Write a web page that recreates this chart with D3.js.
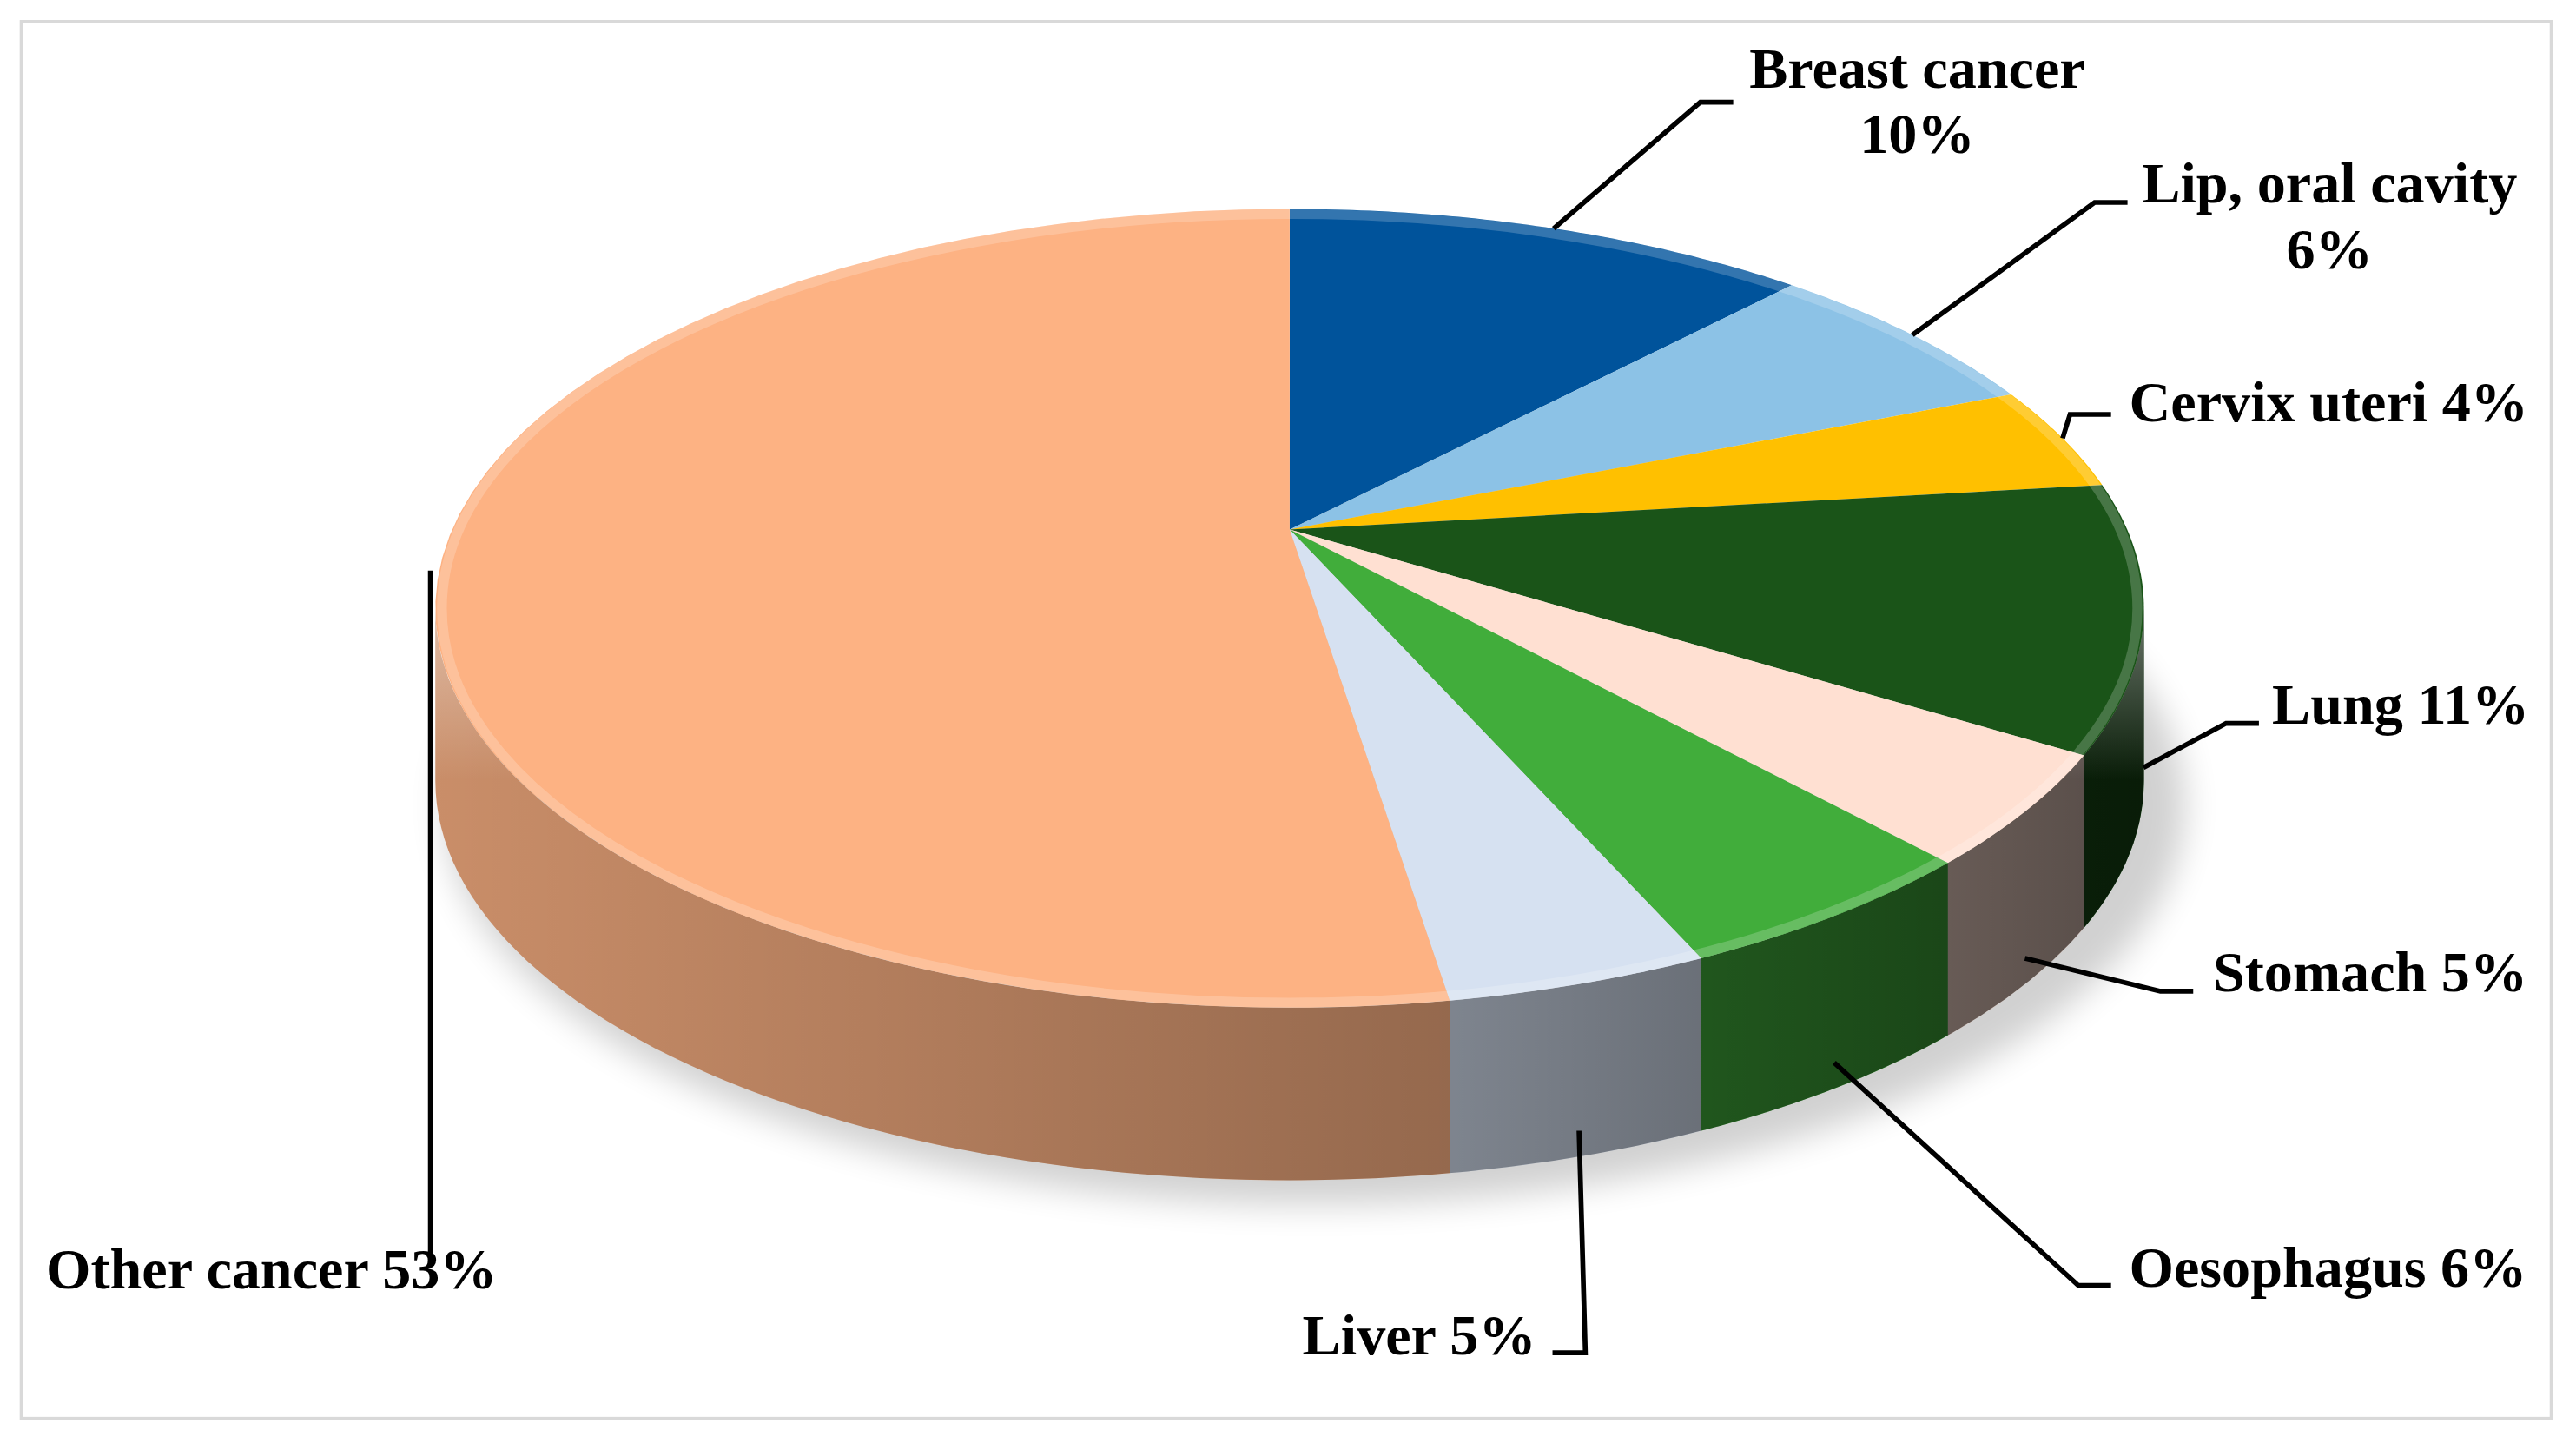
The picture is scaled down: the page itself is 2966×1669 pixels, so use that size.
<!DOCTYPE html>
<html><head><meta charset="utf-8">
<script src="https://cdn.jsdelivr.net/npm/d3@7"></script>
<style>body{margin:0;background:#fff}</style>
</head><body>
<svg id="chart" width="2966" height="1669" viewBox="0 0 1568 882"></svg>
<script>
var categories = ['Breast cancer', 'Lip, oral cavity', 'Cervix uteri', 'Lung', 'Stomach', 'Oesophagus', 'Liver', 'Other cancer'];
var values = [10, 6, 4, 11, 5, 6, 5, 53];
var colours = ['#00539b', '#8cc2e6', '#ffc000', '#1a5418', '#ffe0d2', '#41ad3b', '#d6e1f1', '#fdb283'];

// label layout: text anchor point, anchor, and leader elbow points
var labels = [
  {lines: ['Breast cancer', '10%'], x: 1167, y: 53, anchor: 'middle', elbow: [[1035, 62], [1055, 62]]},
  {lines: ['Lip, oral cavity', '6%'], x: 1418, y: 123, anchor: 'middle', elbow: [[1275, 123], [1295, 123]]},
  {lines: ['Cervix uteri 4%'], x: 1296, y: 256, anchor: 'start', elbow: [[1260, 252], [1285, 252]]},
  {lines: ['Lung 11%'], x: 1383, y: 440, anchor: 'start', elbow: [[1355, 440], [1375, 440]]},
  {lines: ['Stomach 5%'], x: 1347, y: 603, anchor: 'start', elbow: [[1315, 603], [1335, 603]]},
  {lines: ['Oesophagus 6%'], x: 1296, y: 783, anchor: 'start', elbow: [[1265, 782], [1285, 782]]},
  {lines: ['Liver 5%'], x: 935, y: 824, anchor: 'end', elbow: [[965, 823], [945, 823]]},
  {lines: ['Other cancer 53%'], x: 28, y: 784, anchor: 'start', elbow: [[262, 763]]}
];

var svg = d3.select('#chart');
var cx = 785, cy = 370, rx = 520, ry = 243, depth = 105, apexY = 322;

svg.append('rect').attr('x', 13).attr('y', 13).attr('width', 1540).attr('height', 850)
  .attr('fill', '#fff').attr('stroke', '#d9d9d9').attr('stroke-width', 2);

var defs = svg.append('defs');
defs.append('filter').attr('id', 'blur').append('feGaussianBlur').attr('stdDeviation', 10);
var g = defs.append('linearGradient').attr('id', 'shade').attr('x1', 0).attr('x2', 1).attr('y1', 0).attr('y2', 0);
g.append('stop').attr('offset', '0%').attr('stop-color', '#000').attr('stop-opacity', 0.05);
g.append('stop').attr('offset', '60%').attr('stop-color', '#000').attr('stop-opacity', 0.3);
g.append('stop').attr('offset', '100%').attr('stop-color', '#000').attr('stop-opacity', 0.6);
var hl = defs.append('linearGradient').attr('id', 'rim').attr('x1', 0).attr('x2', 0).attr('y1', 0).attr('y2', 1);
hl.append('stop').attr('offset', '0%').attr('stop-color', '#fff').attr('stop-opacity', 0.4);
hl.append('stop').attr('offset', '30%').attr('stop-color', '#fff').attr('stop-opacity', 0);

// shadow
svg.append('ellipse').attr('cx', cx + 15).attr('cy', cy + depth + 15).attr('rx', rx + 10).attr('ry', ry)
  .attr('fill', '#000').attr('opacity', 0.18).attr('filter', 'url(#blur)');

var pie = d3.pie().sort(null).value(function(d) { return d; });
var arcs = pie(values);
var px = function(a) { return cx + rx * Math.sin(a); };
var py = function(a) { return cy - ry * Math.cos(a); };

function arcPath(a0, a1, dy) {
  var n = 60, pts = [];
  for (var i = 0; i <= n; i++) {
    var a = a0 + (a1 - a0) * i / n;
    pts.push([px(a), py(a) + dy]);
  }
  return pts;
}
function toPath(pts) { return 'M' + pts.map(function(p) { return p.join(','); }).join('L') + 'Z'; }
function sidePath(a0, a1) {
  return toPath(arcPath(a0, a1, 0).concat(arcPath(a0, a1, depth).reverse()));
}

// side walls (visible between PI/2 and 3PI/2)
var lo = Math.PI / 2, hi = 3 * Math.PI / 2;
arcs.forEach(function(d, i) {
  var a0 = Math.max(d.startAngle, lo), a1 = Math.min(d.endAngle, hi);
  if (a1 <= a0) return;
  svg.append('path').attr('d', sidePath(a0, a1)).attr('fill', d3.color(colours[i]).darker(0.5));
});
svg.append('path').attr('d', sidePath(lo, hi)).attr('fill', 'url(#shade)');
svg.append('path').attr('d', sidePath(lo, hi)).attr('fill', 'url(#rim)');

// top faces
arcs.forEach(function(d, i) {
  svg.append('path').attr('d', toPath([[cx, apexY]].concat(arcPath(d.startAngle, d.endAngle, 0))))
    .attr('fill', colours[i]);
});
svg.append('ellipse').attr('cx', cx).attr('cy', cy).attr('rx', rx - 4).attr('ry', ry - 3)
  .attr('fill', 'none').attr('stroke', '#fff').attr('stroke-opacity', 0.2).attr('stroke-width', 6);

// leaders and labels
arcs.forEach(function(d, i) {
  var L = labels[i], m = (d.startAngle + d.endAngle) / 2;
  var sx = px(m), sy = py(m);
  if (Math.cos(m) < 0) sy += depth * 0.85;
  if (i === 7) { sx = 262; sy = 347; }
  var pts = [[sx, sy]].concat(L.elbow);
  svg.append('path').attr('d', d3.line()(pts)).attr('fill', 'none').attr('stroke', '#000').attr('stroke-width', 3);
  var t = svg.append('text').attr('x', L.x).attr('y', L.y).attr('text-anchor', L.anchor)
    .attr('font-family', 'Liberation Serif').attr('font-weight', 'bold').attr('font-size', 35).attr('fill', '#000');
  L.lines.forEach(function(s, k) {
    t.append('tspan').attr('x', L.x).attr('dy', k ? 40 : 0).text(s);
  });
});
</script>
</body></html>
